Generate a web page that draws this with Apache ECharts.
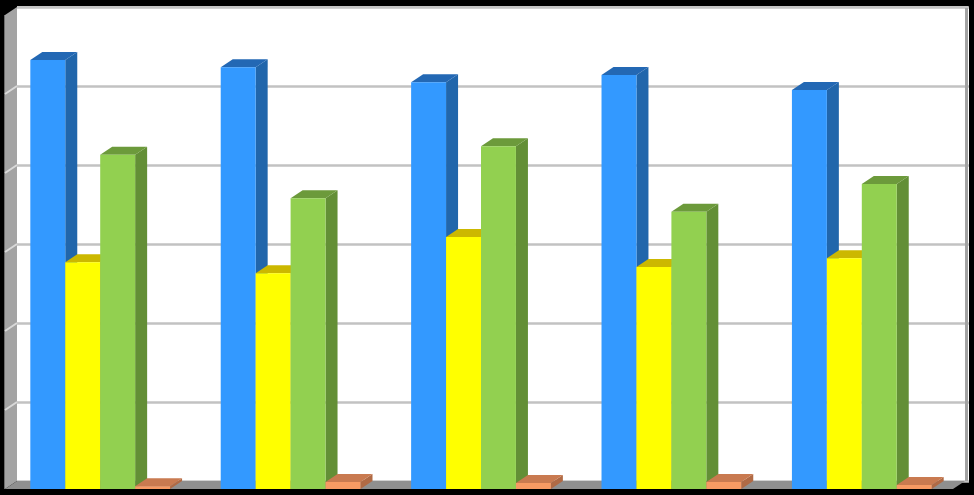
<!DOCTYPE html>
<html><head><meta charset="utf-8">
<style>html,body{margin:0;padding:0;background:#000}#c{width:974px;height:495px}</style>
<script src="https://cdn.jsdelivr.net/npm/echarts@6/dist/echarts.min.js"></script>
</head><body><div id="c"></div>
<script>
const categories = ['1','2','3','4','5'];
const blueValues = [54.3,53.4,51.5,52.4,50.5];
const yellowValues = [28.7,27.3,31.9,28.1,29.2];
const greenValues = [42.3,36.8,43.4,35.1,38.6];
const orangeValues = [0.35,0.9,0.75,0.9,0.5];
const yTicks = [0,10,20,30,40,50,60];
const palette = [
  {front:'#3399ff',side:'#2166ab',top:'#2368b4'},
  {front:'#ffff00',side:'#b3a000',top:'#ccb800'},
  {front:'#92d050',side:'#638f36',top:'#6c9a3b'},
  {front:'#f79a63',side:'#b06a45',top:'#c97a50'}
];
const DX = 12, DY = 8, BAR_RATIO = 0.1835;
const chart = echarts.init(document.getElementById('c'), null, {renderer:'canvas'});

function wall(params, api){
  const c = params.coordSys;
  const L = c.x, R = c.x + c.width, T = c.y, B = c.y + c.height;
  const kids = [
    {type:'polygon',shape:{points:[[L-DX,T+DY],[L,T],[L,B],[L-DX,B+DY]]},style:{fill:'#a3a3a3'}},
    {type:'line',shape:{x1:L-DX-0.5,y1:T+DY,x2:L-DX-0.5,y2:B+DY},style:{stroke:'#6e6e6e',lineWidth:1}},
    {type:'polygon',shape:{points:[[L-DX,B+DY],[L,B],[R-4,B],[R-4-DX,B+DY]]},style:{fill:'#8f8f8f'}},
    {type:'rect',shape:{x:R-4,y:T-1,width:3,height:c.height+1},style:{fill:'#a3a3a3'}},
    {type:'rect',shape:{x:L,y:T-1,width:c.width-1,height:2},style:{fill:'#c4c4c4'}}
  ];
  yTicks.slice(1,-1).forEach(t=>{
    const p = api.coord([0,t]);
    kids.push({type:'line',shape:{x1:L-DX,y1:p[1]+DY,x2:L,y2:p[1]},style:{stroke:'#d9d9d9',lineWidth:2}});
  });
  return {type:'group',children:kids};
}

function bar(si){
  return function(params, api){
    const cat = api.value(0), v = api.value(1);
    const w = api.size([1,0])[0]*BAR_RATIO;
    const top = api.coord([cat,v]), base = api.coord([cat,0]);
    const x0 = top[0] + (si-2)*w - DX, x1 = x0 + w;
    const yT = top[1] + DY, yB = base[1] + DY;
    const col = palette[si];
    return {type:'group',children:[
      {type:'polygon',shape:{points:[[x1,yT],[x1+DX,yT-DY],[x1+DX,yB-DY],[x1,yB]]},style:{fill:col.side}},
      {type:'polygon',shape:{points:[[x0,yT],[x0+DX,yT-DY],[x1+DX,yT-DY],[x1,yT]]},style:{fill:col.top}},
      {type:'rect',shape:{x:x0,y:yT,width:w,height:yB-yT},style:{fill:col.front}}
    ]};
  };
}
const seriesData = [blueValues,yellowValues,greenValues,orangeValues];
const series = [{type:'custom',renderItem:wall,data:[[0,0]],z:1,silent:true,encode:{x:0,y:1}}];
seriesData.forEach((vals,si)=>{
  series.push({type:'custom',renderItem:bar(si),z:2+si,silent:true,encode:{x:0,y:1},
    data:vals.map((v,i)=>[i,v])});
});
chart.setOption({
  animation:false,
  backgroundColor:'#000000',
  grid:{left:17,right:5,top:7,bottom:14,show:true,backgroundColor:'#ffffff',borderWidth:0},
  xAxis:{type:'category',data:categories,axisLine:{show:false},axisTick:{show:false},axisLabel:{show:false}},
  yAxis:{type:'value',min:0,max:60,interval:10,axisLine:{show:false},axisTick:{show:false},axisLabel:{show:false},
    splitLine:{show:true,lineStyle:{color:'#c2c2c2',width:2.5}}},
  series
});
</script></body></html>
